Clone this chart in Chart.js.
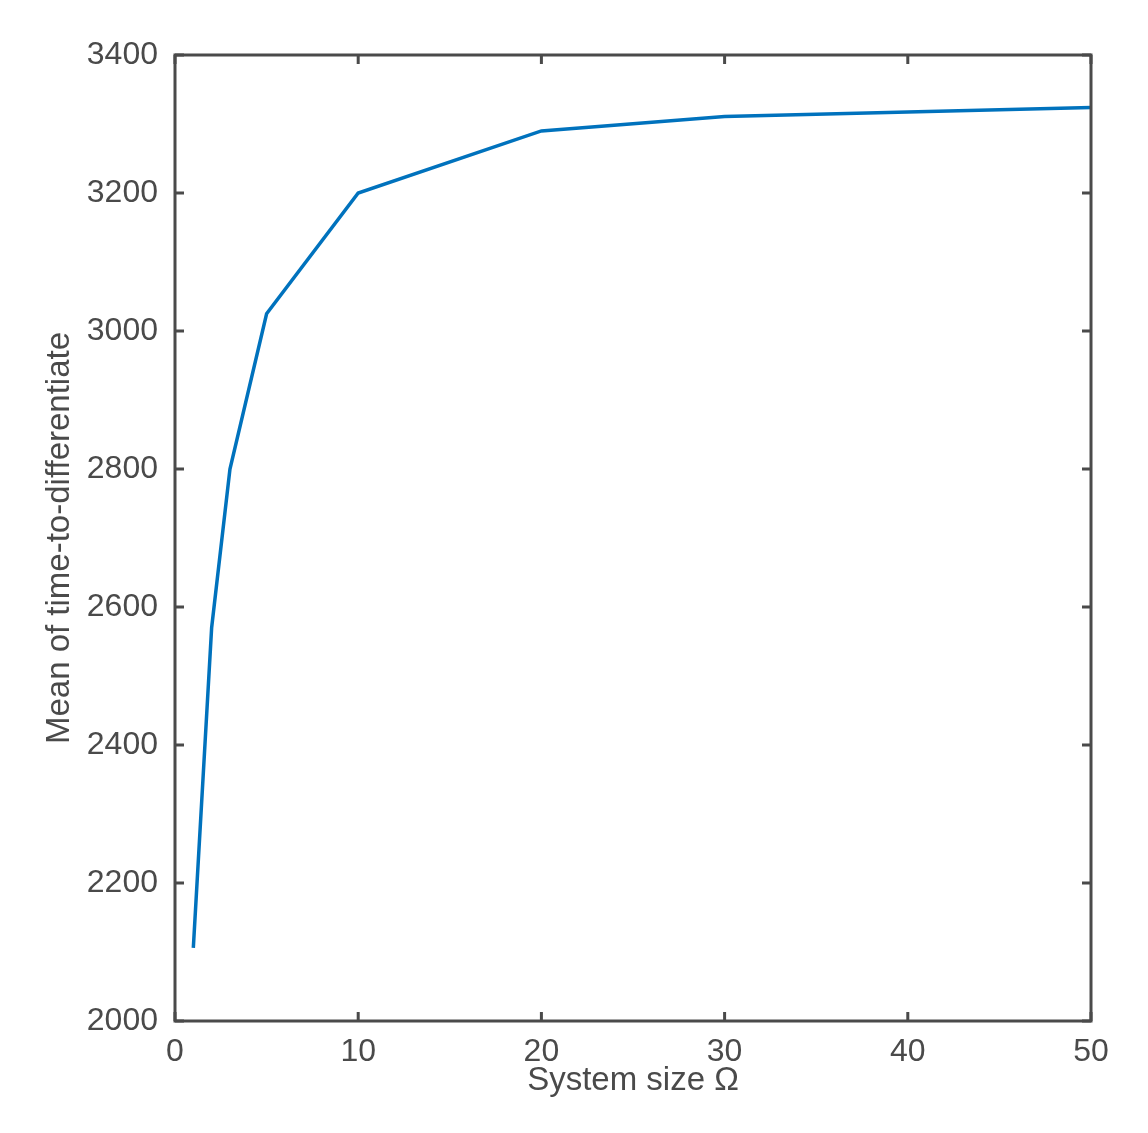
<!DOCTYPE html>
<html>
<head>
<meta charset="utf-8">
<script src="https://cdn.jsdelivr.net/npm/chart.js@4"></script>
<style>
  html, body { margin: 0; padding: 0; background: #fff; }
  #wrap { width: 1148px; height: 1133px; position: relative; }
</style>
</head>
<body>
<div id="wrap"><canvas id="chart"></canvas></div>
<script>
// values
const systemSize = [1, 2, 3, 5, 10, 20, 30, 50];
const meanTime = [2106, 2570, 2800, 3025, 3200, 3290, 3311, 3324];
const xTicks = [0, 10, 20, 30, 40, 50];
const yTicks = [2000, 2200, 2400, 2600, 2800, 3000, 3200, 3400];

const axisColor = '#4a4a4a';
const font = 'Liberation Sans, Arial, Helvetica, sans-serif';

// box round the plot with ticks pointing inwards, like the original
const boxPlugin = {
    id: 'box',
    afterDatasetsDraw(chart) {
        const { ctx, chartArea: a, scales } = chart;
        const len = 9;
        ctx.save();
        ctx.strokeStyle = axisColor;
        ctx.lineWidth = 3;
        ctx.beginPath();
        scales.x.ticks.forEach(t => {
            const px = scales.x.getPixelForValue(t.value);
            ctx.moveTo(px, a.bottom); ctx.lineTo(px, a.bottom - len);
            ctx.moveTo(px, a.top); ctx.lineTo(px, a.top + len);
        });
        scales.y.ticks.forEach(t => {
            const py = scales.y.getPixelForValue(t.value);
            ctx.moveTo(a.left, py); ctx.lineTo(a.left + len, py);
            ctx.moveTo(a.right, py); ctx.lineTo(a.right - len, py);
        });
        ctx.stroke();
        ctx.lineJoin = 'miter';
        ctx.strokeRect(a.left, a.top, a.right - a.left, a.bottom - a.top);
        ctx.restore();
    }
};

new Chart(document.getElementById('chart'), {
    type: 'line',
    data: {
        datasets: [{
            data: systemSize.map((x, i) => ({ x: x, y: meanTime[i] })),
            borderColor: '#0072BD',
            borderWidth: 3.5,
            pointRadius: 0,
            tension: 0,
            fill: false
        }]
    },
    options: {
        responsive: true,
        maintainAspectRatio: false,
        animation: false,
        layout: { padding: { left: 0, top: 55, right: 57, bottom: 0 } },
        plugins: { legend: { display: false }, tooltip: { enabled: false } },
        scales: {
            x: {
                type: 'linear',
                min: 0, max: 50,
                afterBuildTicks: s => { s.ticks = xTicks.map(v => ({ value: v })); },
                afterFit: s => { s.height = 112; },
                grid: { display: false, drawTicks: false },
                border: { display: false },
                ticks: { color: axisColor, font: { family: font, size: 32 }, padding: 12, maxRotation: 0,
                         callback: v => String(v) },
                title: {
                    display: true, text: 'System size Ω', color: axisColor,
                    font: { family: font, size: 33 }, padding: { top: 0, bottom: 32 }
                }
            },
            y: {
                min: 2000, max: 3400,
                afterBuildTicks: s => { s.ticks = yTicks.map(v => ({ value: v })); },
                afterFit: s => { s.width = 175; },
                grid: { display: false, drawTicks: false },
                border: { display: false },
                ticks: { color: axisColor, font: { family: font, size: 32 }, padding: 17,
                         callback: v => String(v) },
                title: {
                    display: true, text: 'Mean of time-to-differentiate', color: axisColor,
                    font: { family: font, size: 33 }, padding: { top: 40, bottom: 0 }
                }
            }
        }
    },
    plugins: [boxPlugin]
});
</script>
</body>
</html>
